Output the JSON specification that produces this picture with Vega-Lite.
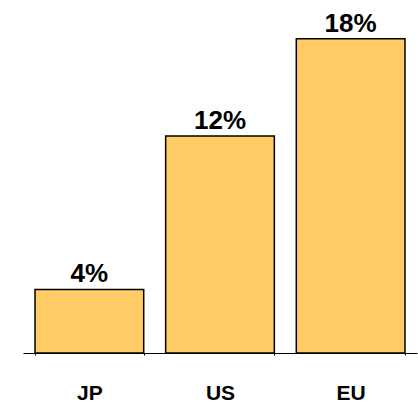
{
  "$schema": "https://vega.github.io/schema/vega-lite/v6.json",
  "autosize": "none",
  "width": 394,
  "height": 353,
  "padding": {"left": 23, "top": 0, "right": 1, "bottom": 52},
  "background": "white",
  "config": {"view": {"stroke": null}, "font": "Liberation Sans"},
  "data": {"values": [
    {"region": "JP", "share": 0.036},
    {"region": "US", "share": 0.123},
    {"region": "EU", "share": 0.178}
  ]},
  "encoding": {
    "x": {
      "field": "region", "type": "nominal", "sort": ["JP", "US", "EU"],
      "scale": {"paddingInner": 0.168, "paddingOuter": 0.092},
      "axis": {
        "title": null, "labelAngle": 0, "labelFont": "Liberation Sans", "labelFontWeight": "bold",
        "labelFontSize": 21, "labelColor": "black", "labelBaseline": "top", "labelPadding": 27,
        "domainColor": "black", "domainWidth": 1, "tickColor": "black", "tickSize": 2, "tickBand": "extent",
        "encode": {"labels": {"update": {
          "dx": {"signal": "datum.value === 'US' ? 13 : datum.value === 'EU' ? 10 : -6"},
          "dy": {"signal": "datum.value === 'US' ? -1 : datum.value === 'EU' ? 2 : 0"}
        }}}
      }
    },
    "y": {"field": "share", "type": "quantitative", "scale": {"domain": [0, 0.2]}, "axis": null}
  },
  "layer": [
    {"mark": {"type": "bar", "fill": "#FFCC66", "stroke": "black", "strokeWidth": 1.5}},
    {"mark": {"type": "text", "baseline": "alphabetic", "dy": -7, "fontSize": 26, "fontWeight": "bold", "font": "Liberation Sans", "color": "black"},
     "encoding": {"text": {"field": "share", "type": "quantitative", "format": ".0%"}}}
  ]
}
